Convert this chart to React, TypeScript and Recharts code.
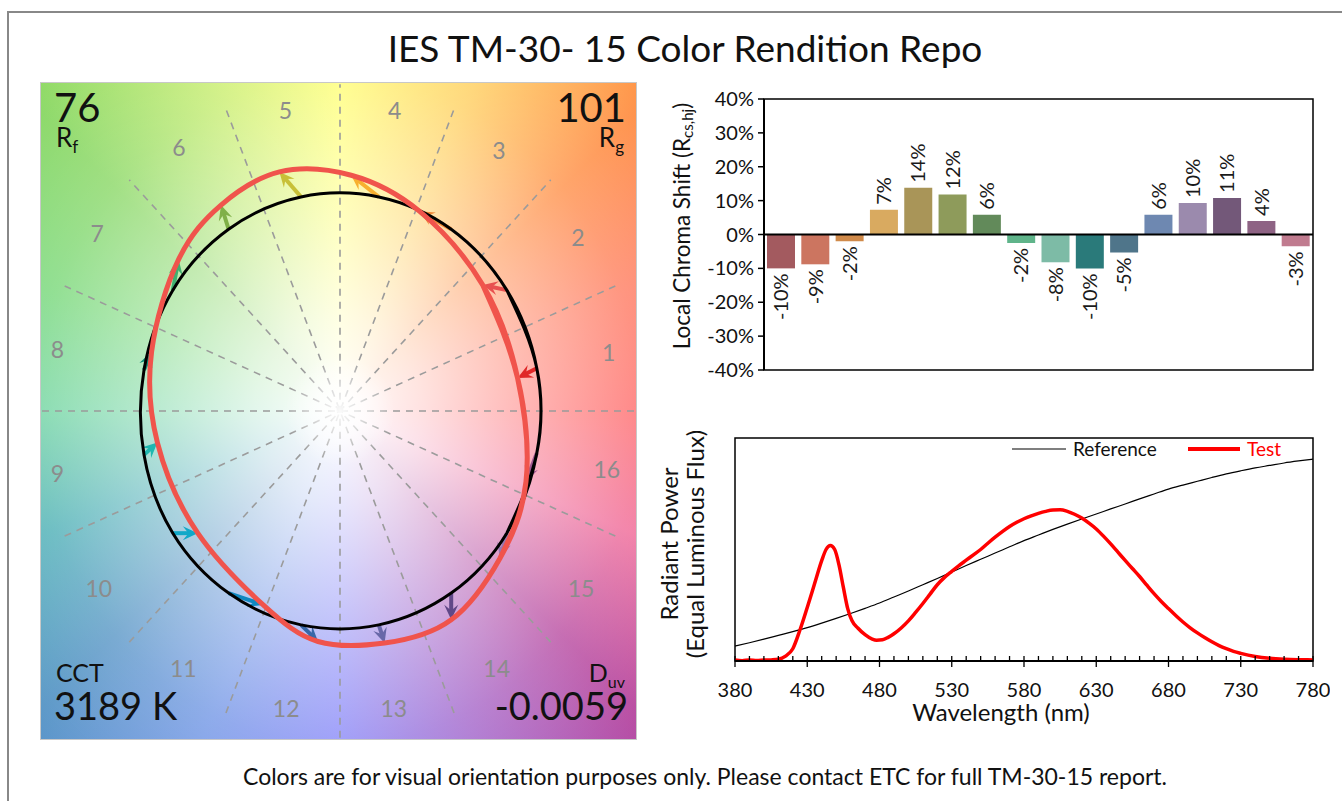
import React from "react";
import {
  ScatterChart,
  Scatter,
  XAxis,
  YAxis,
  ReferenceLine,
  ReferenceArea,
  BarChart,
  Bar,
  Cell,
  LabelList,
  LineChart,
  Line,
} from "recharts";

const FONT = "Lato, 'Noto Sans', sans-serif";

const title = "IES TM-30- 15 Color Rendition Repo";
const footer = "Colors are for visual orientation purposes only. Please contact ETC for full TM-30-15 report.";
const rf = "76";
const rg = "101";
const cct = "3189 K";
const duv = "-0.0059";

// 16 hue bins
const hueBins = ["1", "2", "3", "4", "5", "6", "7", "8", "9", "10", "11", "12", "13", "14", "15", "16"];
const chromaShift = [-10, -8.8, -2, 7.3, 13.8, 11.8, 5.8, -2.5, -8.2, -10, -5.3, 5.8, 9.3, 10.8, 4, -3.5];
const chromaLabels = ["-10%", "-9%", "-2%", "7%", "14%", "12%", "6%", "-2%", "-8%", "-10%", "-5%", "6%", "10%", "11%", "4%", "-3%"];
const binColors = [
  "#a35a5f", "#cc7560", "#d08a4a", "#d9aa60", "#a99558", "#8e9b5b", "#628a5a", "#5fb48a",
  "#7dbba6", "#2a7a7a", "#4f758a", "#6e88b1", "#9b8aad", "#735879", "#8e6384", "#c07b8f",
];
const arrowColors = [
  "#e02828", "#e85050", "#f08a38", "#f8b030", "#c8c038", "#80b048", "#40b070", "#10907a",
  "#20b8b0", "#10a8c8", "#1088c0", "#3868a8", "#6868a8", "#604888", "#9878b0", "#a05890",
];
const chromaTicks = [-40, -30, -20, -10, 0, 10, 20, 30, 40];

// color vector graphic (normalised a', b')
const refX = [0.984, 0.834, 0.556, 0.194, -0.195, -0.557, -0.836, -0.98, -0.98, -0.836, -0.557, -0.195, 0.194, 0.556, 0.834, 0.984];
const refY = [0.195, 0.551, 0.829, 0.976, 0.976, 0.829, 0.551, 0.187, -0.2, -0.557, -0.83, -0.975, -0.975, -0.83, -0.557, -0.192];
const testX = [0.888, 0.714, 0.397, 0.056, -0.303, -0.595, -0.807, -0.942, -0.913, -0.711, -0.384, -0.11, 0.223, 0.556, 0.8, 0.93];
const testY = [0.15, 0.574, 0.911, 1.075, 1.09, 0.939, 0.691, 0.27, -0.144, -0.557, -0.884, -1.051, -1.058, -0.952, -0.671, -0.322];
const labelRadius = [1.37, 1.43, 1.43, 1.4, 1.4, 1.45, 1.46, 1.44, 1.44, 1.45, 1.41, 1.38, 1.38, 1.41, 1.45, 1.36];
const spokeAngles = [0, 22.5, 45, 67.5, 90, 112.5, 135, 157.5];

// spectra
const refNm = [
  380, 390, 400, 410, 420, 430, 440, 450, 460, 470, 480, 490, 500, 510, 520, 530, 540, 550, 560, 570, 580,
  590, 600, 610, 620, 630, 640, 650, 660, 670, 680, 690, 700, 710, 720, 730, 740, 750, 760, 770, 780,
];
const refPower = [
  0.067, 0.082, 0.098, 0.115, 0.132, 0.15, 0.17, 0.191, 0.213, 0.236, 0.26, 0.287, 0.314, 0.342, 0.37, 0.399,
  0.428, 0.456, 0.484, 0.512, 0.54, 0.565, 0.59, 0.614, 0.637, 0.659, 0.682, 0.704, 0.727, 0.749, 0.771,
  0.789, 0.806, 0.823, 0.839, 0.853, 0.866, 0.877, 0.888, 0.897, 0.905,
];
const testNm = [
  380, 385, 390, 395, 400, 405, 410, 415, 420, 425, 430, 435, 440, 443, 446, 449, 452, 455, 458, 461, 465,
  470, 475, 478, 482, 486, 490, 495, 500, 505, 510, 515, 520, 525, 530, 535, 540, 545, 550, 555, 560, 565,
  570, 575, 580, 585, 590, 595, 600, 605, 610, 615, 620, 625, 630, 635, 640, 645, 650, 655, 660, 665, 670,
  675, 680, 685, 690, 695, 700, 705, 710, 715, 720, 725, 730, 740, 750, 760, 770, 780,
];
const testPower = [
  0.004, 0.001, 0.005, 0.002, 0.004, 0.005, 0.008, 0.022, 0.055, 0.14, 0.24, 0.345, 0.45, 0.5, 0.518, 0.5,
  0.43, 0.33, 0.235, 0.18, 0.148, 0.118, 0.098, 0.093, 0.095, 0.106, 0.122, 0.148, 0.18, 0.218, 0.258, 0.3,
  0.342, 0.375, 0.402, 0.428, 0.452, 0.476, 0.5, 0.528, 0.555, 0.58, 0.603, 0.622, 0.638, 0.651, 0.662,
  0.671, 0.677, 0.678, 0.671, 0.658, 0.641, 0.618, 0.592, 0.56, 0.525, 0.488, 0.451, 0.415, 0.379, 0.34,
  0.302, 0.267, 0.235, 0.204, 0.175, 0.149, 0.126, 0.105, 0.086, 0.069, 0.055, 0.043, 0.034, 0.02, 0.012,
  0.008, 0.006, 0.005,
];
const nmMajor = [380, 430, 480, 530, 580, 630, 680, 730, 780];
const nmTicks = [
  380, 390, 400, 410, 420, 430, 440, 450, 460, 470, 480, 490, 500, 510, 520, 530, 540, 550, 560, 570, 580,
  590, 600, 610, 620, 630, 640, 650, 660, 670, 680, 690, 700, 710, 720, 730, 740, 750, 760, 770, 780,
];

const barRows = hueBins.map((bin, i) => ({ bin, shift: chromaShift[i], label: chromaLabels[i] }));
const refPts = refX.map((x, i) => ({ x, y: refY[i] }));
const testPts = testX.map((x, i) => ({ x, y: testY[i] }));
const wrap = (pts: { x: number; y: number }[]) => [...pts.slice(-2), ...pts, ...pts.slice(0, 2)];
const labelPts = hueBins.map((label, i) => {
  const a = ((i + 0.5) * 22.5 * Math.PI) / 180;
  return { x: labelRadius[i] * Math.cos(a), y: labelRadius[i] * Math.sin(a), label };
});
const refRows = refNm.map((nm, i) => ({ nm, p: refPower[i] }));
const testRows = testNm.map((nm, i) => ({ nm, p: testPower[i] }));

const Empty = () => <g />;

const HueLabel = (p: any) => (
  <text x={p.cx} y={p.cy} textAnchor="middle" dominantBaseline="central" fontSize={23} fill="#8c8c8c" fontFamily={FONT}>
    {p.payload.label}
  </text>
);

const Arrow = (p: any) => {
  const { x1, y1, x2, y2, stroke } = p;
  const dx = x2 - x1;
  const dy = y2 - y1;
  const len = Math.hypot(dx, dy) || 1;
  const ux = dx / len;
  const uy = dy / len;
  const nx = -uy;
  const ny = ux;
  const h = 15;
  const w = 7;
  const bx = x2 - ux * h;
  const by = y2 - uy * h;
  const mx = x2 - ux * h * 0.62;
  const my = y2 - uy * h * 0.62;
  return (
    <g>
      <line x1={x1} y1={y1} x2={x2 - ux * 7} y2={y2 - uy * 7} stroke={stroke} strokeWidth={4} />
      <polygon points={`${x2},${y2} ${bx + nx * w},${by + ny * w} ${mx},${my} ${bx - nx * w},${by - ny * w}`} fill={stroke} />
    </g>
  );
};

const BarLabel = (p: any) => {
  const x = Number(p.x);
  const y = Number(p.y);
  const width = Number(p.width);
  const height = Number(p.height);
  const text = String(p.value);
  const neg = text.startsWith("-");
  const cx = x + width / 2;
  const top = Math.min(y, y + height);
  const bottom = Math.max(y, y + height);
  const ty = neg ? bottom + 5 : top - 5;
  return (
    <text x={cx} y={ty} dy="0.36em" transform={`rotate(-90 ${cx} ${ty})`} textAnchor={neg ? "end" : "start"} fontSize={20} fill="#1a1a1a" fontFamily={FONT}>
      {text}
    </text>
  );
};

const SpectrumTick = (p: any) => {
  const { x, y, payload } = p;
  const major = nmMajor.includes(payload.value);
  return (
    <g>
      <line x1={x} x2={x} y1={y - 5} y2={major ? y + 6 : y} stroke="#000" strokeWidth={1.3} />
      {major && (
        <text x={x} y={y + 36} textAnchor="middle" fontSize={20} fill="#111" fontFamily={FONT}>
          {payload.value}
        </text>
      )}
    </g>
  );
};

const ColorVectorGraphic = () => (
  <>
    <div
      style={{
        position: "absolute",
        left: 40,
        top: 82,
        width: 597,
        height: 658,
        boxSizing: "border-box",
        border: "1px solid #c8c8c8",
        background:
          "radial-gradient(ellipse farthest-corner at 50% 50%, rgba(255,255,255,1) 0%, rgba(255,255,255,0.8) 20%, rgba(255,255,255,0.5) 45%, rgba(255,255,255,0.2) 72%, rgba(255,255,255,0) 100%)," +
          "conic-gradient(from 90deg at 50% 50%, #ff6a6a 0deg, #f06a98 22.5deg, #b84aa0 45deg, #a468cc 67.5deg, #8888f8 90deg, #7498e6 112.5deg, #5896c6 135deg, #4eb0b6 157.5deg, #6ed4a0 180deg, #78d87a 202.5deg, #8ad866 225deg, #c4ec70 247.5deg, #ffff74 270deg, #ffd062 292.5deg, #ff9048 315deg, #ff7c62 337.5deg, #ff6a6a 360deg)",
      }}
    />
    <div style={{ position: "absolute", left: 40, top: 82 }}>
      <ScatterChart width={597} height={658} margin={{ top: 0, right: 0, bottom: 0, left: 0 }}>
        <XAxis type="number" dataKey="x" domain={[-1.5, 1.485]} allowDataOverflow hide />
        <YAxis type="number" dataKey="y" domain={[-1.5, 1.5]} allowDataOverflow hide />
        {spokeAngles.map((a) => {
          const r = 1.49;
          const c = Math.cos((a * Math.PI) / 180);
          const s = Math.sin((a * Math.PI) / 180);
          return (
            <Scatter
              key={a}
              data={[{ x: -r * c, y: -r * s }, { x: r * c, y: r * s }]}
              fill="#9b9b9b"
              line={{ stroke: "#9b9b9b", strokeWidth: 1.6, strokeDasharray: "7 6" }}
              shape={Empty}
              isAnimationActive={false}
            />
          );
        })}
        <Scatter data={wrap(refPts)} fill="#000" line={{ stroke: "#000", strokeWidth: 3 }} lineJointType="natural" shape={Empty} isAnimationActive={false} />
        <Scatter data={wrap(testPts)} fill="#f0544c" line={{ stroke: "#f0544c", strokeWidth: 5 }} lineJointType="natural" shape={Empty} isAnimationActive={false} />
        <Scatter data={labelPts} fill="#8c8c8c" shape={HueLabel} isAnimationActive={false} />
        {hueBins.map((b, i) => (
          <ReferenceLine
            key={b}
            segment={[{ x: refX[i], y: refY[i] }, { x: testX[i], y: testY[i] }]}
            stroke={arrowColors[i]}
            ifOverflow="visible"
            shape={Arrow}
          />
        ))}
      </ScatterChart>
    </div>
    <div
      style={{
        position: "absolute",
        left: 280,
        top: 351,
        width: 120,
        height: 120,
        pointerEvents: "none",
        background: "radial-gradient(circle at 50% 50%, rgba(255,255,255,0.95) 0px, rgba(255,255,255,0.6) 25px, rgba(255,255,255,0) 55px)",
      }}
    />
  </>
);

const ChromaShiftChart = () => (
  <div style={{ position: "absolute", left: 640, top: 80 }}>
    <BarChart width={690} height={320} data={barRows} margin={{ top: 19, right: 17, bottom: 30, left: 0 }} barCategoryGap={3}>
      <XAxis dataKey="bin" hide />
      <YAxis
        type="number"
        domain={[-40, 40]}
        ticks={chromaTicks}
        interval={0}
        allowDataOverflow
        width={124}
        tickSize={6}
        tickMargin={4}
        tickFormatter={(v) => `${v}%`}
        tick={{ fill: "#111", fontSize: 20, fontFamily: FONT }}
        axisLine={{ stroke: "#000", strokeWidth: 2 }}
        tickLine={{ stroke: "#000", strokeWidth: 1.5 }}
      />
      <ReferenceArea x1="1" x2="16" y1={-40} y2={40} fill="none" stroke="#000" strokeWidth={1.5} ifOverflow="visible" />
      <Bar dataKey="shift" isAnimationActive={false}>
        {barRows.map((r, i) => (
          <Cell key={r.bin} fill={binColors[i]} />
        ))}
        <LabelList dataKey="label" content={BarLabel} />
      </Bar>
      <ReferenceLine y={0} stroke="#000" strokeWidth={2} />
    </BarChart>
  </div>
);

const SpectrumChart = () => (
  <div style={{ position: "absolute", left: 640, top: 420 }}>
    <LineChart width={690} height={310} margin={{ top: 18, right: 17, bottom: 0, left: 95 }}>
      <XAxis
        type="number"
        dataKey="nm"
        domain={[380, 780]}
        ticks={nmTicks}
        interval={0}
        allowDataOverflow
        height={69}
        tickSize={0}
        tickMargin={0}
        tickLine={false}
        tick={SpectrumTick}
        axisLine={{ stroke: "#000", strokeWidth: 2 }}
      />
      <YAxis type="number" domain={[0, 1]} allowDataOverflow hide />
      <ReferenceArea x1={380} x2={780} y1={0} y2={1} fill="none" stroke="#000" strokeWidth={1.5} ifOverflow="visible" />
      <Line data={refRows} dataKey="p" type="monotone" stroke="#000" strokeWidth={1.2} dot={false} isAnimationActive={false} />
      <Line data={testRows} dataKey="p" type="monotone" stroke="#ff0000" strokeWidth={3.5} dot={false} isAnimationActive={false} />
    </LineChart>
  </div>
);

const Overlay = () => (
  <svg width={1342} height={801} style={{ position: "absolute", left: 0, top: 0, pointerEvents: "none" }} fontFamily={FONT}>
    <text x={685} y={62} textAnchor="middle" fontSize={37} fill="#111">{title}</text>

    <text x={54} y={122} fontSize={40} fill="#111">{rf}</text>
    <text x={56} y={147} fontSize={26} fill="#111">R<tspan fontSize={17} dy={6}>f</tspan></text>
    <text x={626} y={122} textAnchor="end" fontSize={40} fill="#111">{rg}</text>
    <text x={624} y={147} textAnchor="end" fontSize={26} fill="#111">R<tspan fontSize={17} dy={6}>g</tspan></text>
    <text x={56} y={682} fontSize={25} fill="#111">CCT</text>
    <text x={54} y={720} fontSize={38} fill="#111">{cct}</text>
    <text x={625} y={682} textAnchor="end" fontSize={25} fill="#111">D<tspan fontSize={16} dy={6}>uv</tspan></text>
    <text x={628} y={720} textAnchor="end" fontSize={38} fill="#111">{duv}</text>

    <text x={690} y={226} transform="rotate(-90 690 226)" textAnchor="middle" fontSize={22.5} fill="#111">
      Local Chroma Shift (R<tspan fontSize={15} dy={3}>cs,hj</tspan><tspan dy={-3}>)</tspan>
    </text>

    <text x={678} y={544} transform="rotate(-90 678 544)" textAnchor="middle" fontSize={24} fill="#111">Radiant Power</text>
    <text x={704} y={544} transform="rotate(-90 704 544)" textAnchor="middle" fontSize={24} fill="#111">(Equal Luminous Flux)</text>
    <text x={1001} y={721} textAnchor="middle" fontSize={24} fill="#111">Wavelength (nm)</text>

    <line x1={1012} x2={1066} y1={449} y2={449} stroke="#000" strokeWidth={1.2} />
    <text x={1073} y={456} fontSize={19} fill="#111">Reference</text>
    <line x1={1188} x2={1240} y1={449} y2={449} stroke="#ff0000" strokeWidth={4} />
    <text x={1247} y={456} fontSize={19} fill="#ff0000">Test</text>

    <text x={705} y={785} textAnchor="middle" fontSize={23} fill="#111">{footer}</text>
  </svg>
);

export default function App() {
  return (
    <div style={{ position: "fixed", left: 0, top: 0, width: 1342, height: 801, overflow: "hidden", background: "#fff", fontFamily: FONT }}>
      <div style={{ position: "absolute", left: 7, top: 11, width: 1340, height: 800, borderLeft: "2px solid #888", borderTop: "2px solid #888" }} />
      <ColorVectorGraphic />
      <ChromaShiftChart />
      <SpectrumChart />
      <Overlay />
    </div>
  );
}
